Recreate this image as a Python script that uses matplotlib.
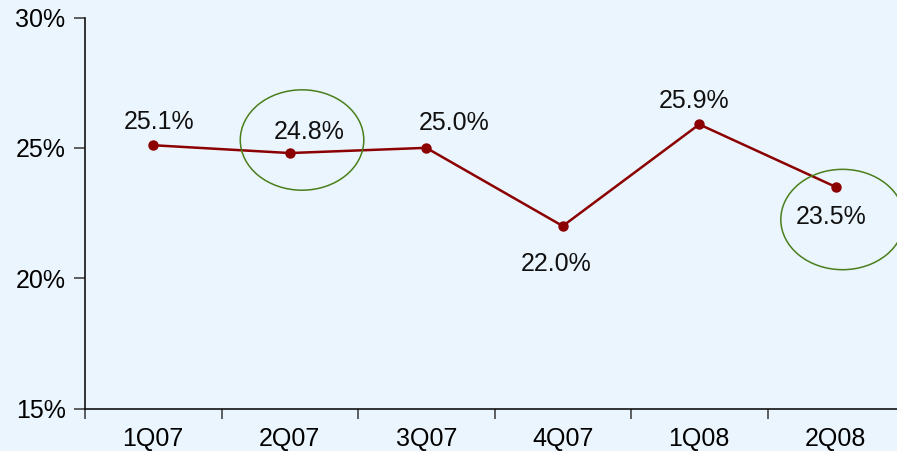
import matplotlib
matplotlib.use("Agg")
import matplotlib.pyplot as plt
from matplotlib.patches import Ellipse

quarters = ["1Q07", "2Q07", "3Q07", "4Q07", "1Q08", "2Q08"]
values = [25.1, 24.8, 25.0, 22.0, 25.9, 23.5]
labels = ["25.1%", "24.8%", "25.0%", "22.0%", "25.9%", "23.5%"]
# label offsets in points (dx, dy) relative to each point
offsets = [(4, 17), (14, 15), (20, 18), (-5, -27), (-4, 17), (-3, -22)]
yticks = [15, 20, 25, 30]

BG = "#EBF5FE"
LINE = "#8B0000"
RING = "#4A7F1C"

plt.rcParams["font.family"] = ["Liberation Sans", "DejaVu Sans"]
fig = plt.figure(figsize=(8.97, 4.51), dpi=100, facecolor=BG)
ax = fig.add_axes([85 / 897, 1 - 408.5 / 451, 819 / 897, 391 / 451])
ax.set_facecolor(BG)

x = list(range(len(quarters)))
ax.plot(x, values, color=LINE, lw=1.8, marker="o", ms=6.5, zorder=3)
for xi, v, lab, (dx, dy) in zip(x, values, labels, offsets):
    ax.annotate(lab, (xi, v), xytext=(dx, dy), textcoords="offset points",
                ha="center", va="center", fontsize=18, color="#111111")

# green rings around highlighted quarters
ring_centers = [(1.09, 25.3), (5.05, 22.25)]
for cx, cy in ring_centers:
    ax.add_patch(Ellipse((cx, cy), 0.905, 3.85, fill=False, ec=RING, lw=1.1, zorder=4))

ax.set_xlim(-0.5, 5.5)
ax.set_ylim(15, 30)
ax.set_yticks(yticks)
ax.set_yticklabels([f"{t}%" for t in yticks], fontsize=18)
ax.set_xticks([i - 0.5 for i in range(len(quarters) + 1)])
ax.set_xticklabels([])
ax.set_xticks(x, minor=True)
ax.set_xticklabels(quarters, minor=True, fontsize=18)
ax.tick_params(axis="x", which="minor", length=0, pad=13)
ax.tick_params(axis="x", which="major", length=7, width=1.2, color="#444444")
ax.tick_params(axis="y", length=8, width=1.2, color="#444444", pad=6)
for s in ["top", "right"]:
    ax.spines[s].set_visible(False)
for s in ["left", "bottom"]:
    ax.spines[s].set_linewidth(1.2)
    ax.spines[s].set_color("#111111")

fig.savefig("out.png", dpi=100, facecolor=BG)
